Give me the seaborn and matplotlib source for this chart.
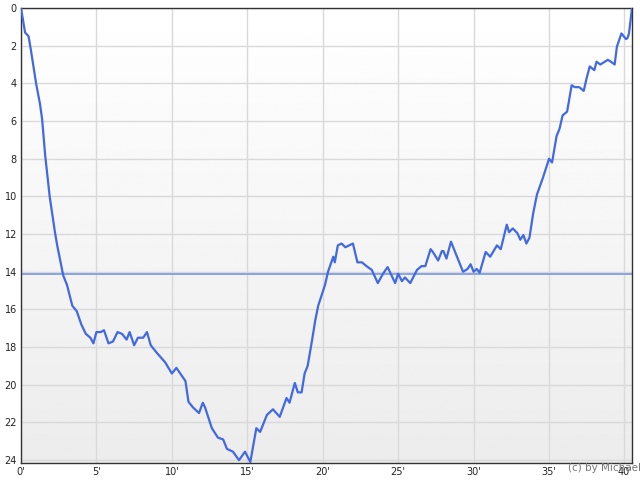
import numpy as np
import pandas as pd
import seaborn as sns
import matplotlib
matplotlib.use("Agg")
import matplotlib.pyplot as plt

# minutes vs value
minutes = [0, 0.27, 0.5, 0.65, 1.0, 1.26, 1.4, 1.6, 1.9, 2.25, 2.4, 2.8, 3.05, 3.4, 3.7,
           4.0, 4.3, 4.6, 4.8, 5.0, 5.3, 5.5, 5.8, 6.1, 6.4, 6.7, 7.0, 7.2, 7.5, 7.75,
           8.1, 8.35, 8.6, 9.0, 9.55, 10.0, 10.3, 10.9, 11.1, 11.4, 11.8, 12.05, 12.2,
           12.65, 13.05, 13.4, 13.65, 14.05, 14.45, 14.85, 15.2, 15.6, 15.85, 16.3, 16.7,
           17.15, 17.6, 17.8, 18.15, 18.35, 18.6, 18.8, 19.0, 19.3, 19.5, 19.7, 20.15,
           20.35, 20.7, 20.8, 21.0, 21.25, 21.5, 22.0, 22.3, 22.6, 22.9, 23.25, 23.65,
           24.0, 24.3, 24.8, 25.0, 25.25, 25.45, 25.8, 26.25, 26.55, 26.8, 27.15, 27.3,
           27.65, 27.9, 28.0, 28.2, 28.5, 28.9, 29.3, 29.6, 29.8, 30.0, 30.2, 30.4, 30.8,
           31.1, 31.55, 31.8, 32.2, 32.35, 32.6, 32.9, 33.1, 33.3, 33.5, 33.7, 33.95,
           34.2, 34.6, 35.0, 35.2, 35.5, 35.7, 35.9, 36.2, 36.5, 36.7, 37.0, 37.3, 37.5,
           37.7, 38.0, 38.15, 38.4, 38.7, 38.9, 39.1, 39.35, 39.5, 39.8, 40.1, 40.2,
           40.3, 40.5]
values = [0, 1.3, 1.5, 2.2, 4.0, 5.1, 5.9, 7.8, 10.0, 11.9, 12.6, 14.2, 14.7, 15.8, 16.1,
          16.8, 17.3, 17.5, 17.8, 17.2, 17.2, 17.1, 17.8, 17.7, 17.2, 17.3, 17.6, 17.2,
          17.9, 17.5, 17.5, 17.2, 17.9, 18.3, 18.8, 19.4, 19.1, 19.8, 20.9, 21.2, 21.5,
          20.95, 21.2, 22.3, 22.8, 22.9, 23.4, 23.55, 24.0, 23.55, 24.1, 22.3, 22.5, 21.6,
          21.3, 21.7, 20.7, 20.95, 19.9, 20.4, 20.4, 19.4, 19.0, 17.6, 16.6, 15.8, 14.7,
          14.0, 13.2, 13.5, 12.6, 12.5, 12.7, 12.5, 13.5, 13.5, 13.7, 13.9, 14.6,
          14.1, 13.75, 14.6, 14.1, 14.5, 14.3, 14.6, 13.9, 13.7, 13.7, 12.8, 12.95,
          13.4, 12.9, 12.9, 13.3, 12.4, 13.2, 14.0, 13.85, 13.6, 14.0, 13.85, 14.05, 12.95,
          13.2, 12.6, 12.8, 11.5, 11.9, 11.7, 11.95, 12.3, 12.05, 12.5, 12.2, 10.9,
          9.9, 9.0, 8.0, 8.2, 6.8, 6.4, 5.7, 5.5, 4.1, 4.2, 4.2, 4.4, 3.7,
          3.1, 3.3, 2.85, 3.0, 2.85, 2.75, 2.85, 3.0, 2.05, 1.35, 1.65, 1.6,
          1.35, 0]
avg_line = 14.1
x_ticks = [0, 5, 10, 15, 20, 25, 30, 35, 40]
y_ticks = [0, 2, 4, 6, 8, 10, 12, 14, 16, 18, 20, 22, 24]

df = pd.DataFrame({'min': minutes, 'val': values})

sns.set_style("white")
fig = plt.figure(figsize=(6.4, 4.8), dpi=100)
ax = fig.add_axes([21/640, 1-463/480, (632-21)/640, (463-8)/480])

# background gradient white -> light gray
grad = np.linspace(1.0, 0.925, 256).reshape(-1, 1)
ax.imshow(grad, extent=[0, 1, 0, 1], transform=ax.transAxes, aspect='auto',
          cmap='gray', vmin=0, vmax=1, zorder=0, origin='upper')

for xt in x_ticks:
    ax.axvline(xt, color='#d9d9d9', lw=1, zorder=1)
for yt in y_ticks:
    ax.axhline(yt, color='#d9d9d9', lw=1, zorder=1)

ax.axhline(avg_line, color='#7f9ee6', lw=1.3, zorder=2)
sns.lineplot(data=df, x='min', y='val', ax=ax, color='#4169e1', lw=1.6,
             zorder=3, sort=False, solid_joinstyle='round')

ax.set_xlim(0, 40.5)
ax.set_ylim(24.15, 0)
ax.set_xticks(x_ticks)
ax.set_xticklabels([f"{t}'" for t in x_ticks])
ax.set_yticks(y_ticks)
ax.set_xlabel('')
ax.set_ylabel('')
ax.tick_params(length=0, labelsize=7, colors='#222222', pad=3)
for s in ax.spines.values():
    s.set_visible(True)
    s.set_color('#333333')
    s.set_linewidth(1)

# watermark overlaps the 40' label, as in the original
fig.text(0.887, 0.018, '(c) by Michael', fontsize=7.5, color='#777777')

fig.savefig('out.png', dpi=100)
